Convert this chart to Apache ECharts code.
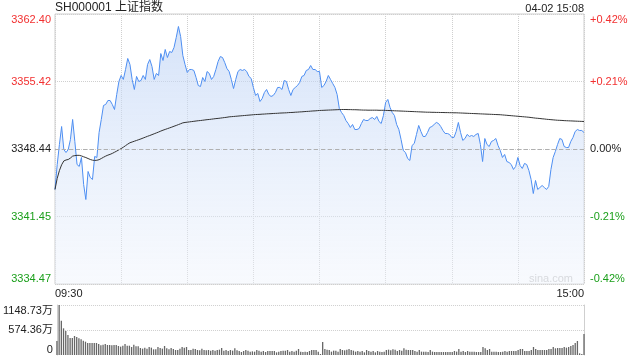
<!DOCTYPE html>
<html><head><meta charset="utf-8">
<script src="https://cdn.jsdelivr.net/npm/echarts@6/dist/echarts.min.js"></script>
<style>html,body{margin:0;padding:0;background:#fff}#c{width:640px;height:360px}</style>
</head><body><div id="c"></div>
<script>
const titleText = 'SH000001 上证指数';
const dateText = '04-02 15:08';
const prevClose = 3348.44;
const priceTicks = [3334.47, 3341.45, 3348.44, 3355.42, 3362.40];
const priceTickLabels = ['3334.47', '3341.45', '3348.44', '3355.42', '3362.40'];
const pctTicks = [-0.42, -0.21, 0, 0.21, 0.42];
const pctTickLabels = ['-0.42%', '-0.21%', '0.00%', '+0.21%', '+0.42%'];
const volTicks = [0, 574.36, 1148.73];
const volTickLabels = ['0', '574.36万', '1148.73万'];
const timeLabels = ['09:30', '15:00'];
const watermark = 'sina.com';

const prices = [
3344.25,3346.83,3348.90,3350.76,3348.38,3348.07,3348.38,3349.42,3351.49,3349.21,
3346.83,3346.63,3347.56,3344.76,3343.21,3346.11,3345.49,3345.28,3347.66,3347.56,
3350.14,3351.49,3352.94,3353.04,3353.45,3353.45,3353.04,3352.52,3354.07,3355.42,
3356.04,3355.63,3356.66,3357.80,3357.18,3355.63,3354.59,3355.94,3355.42,3355.52,
3356.04,3355.63,3357.18,3357.69,3356.97,3355.63,3356.25,3356.04,3358.31,3357.59,
3358.73,3357.90,3358.52,3358.42,3358.94,3359.97,3361.11,3360.07,3358.11,3357.18,
3356.35,3356.66,3356.66,3356.56,3355.83,3355.00,3354.90,3355.83,3355.42,3356.45,
3356.25,3355.63,3355.94,3356.66,3357.49,3358.00,3357.90,3357.38,3356.76,3356.45,
3355.63,3354.69,3355.63,3356.45,3356.66,3356.56,3356.66,3356.45,3355.94,3355.73,
3354.80,3353.97,3354.18,3353.35,3353.66,3354.28,3354.59,3354.07,3353.87,3353.97,
3354.28,3354.80,3354.80,3354.59,3355.52,3355.42,3354.59,3353.97,3354.59,3354.80,
3355.00,3355.31,3355.94,3356.04,3356.56,3356.66,3357.07,3356.66,3356.66,3356.45,
3356.45,3354.80,3355.00,3355.42,3356.04,3355.63,3355.21,3354.80,3354.07,3352.62,
3352.21,3351.90,3351.38,3351.07,3350.66,3350.97,3350.45,3350.45,3350.56,3351.07,
3351.49,3351.38,3351.38,3351.59,3351.69,3351.49,3351.80,3351.28,3351.07,3351.90,
3353.25,3353.56,3352.73,3352.21,3351.90,3350.97,3350.45,3349.42,3348.28,3348.07,
3347.45,3347.25,3348.80,3349.01,3349.94,3350.87,3350.25,3349.73,3349.73,3350.14,
3350.66,3350.76,3350.97,3351.18,3351.07,3350.76,3350.35,3350.04,3350.04,3349.94,
3349.63,3349.63,3350.25,3351.18,3350.14,3349.32,3349.52,3349.94,3349.73,3349.83,
3349.73,3349.94,3350.04,3348.90,3347.14,3349.52,3348.90,3348.69,3349.21,3349.32,
3349.52,3348.80,3348.28,3347.56,3347.87,3347.14,3347.04,3346.83,3346.32,3346.63,
3347.56,3346.73,3346.42,3346.94,3346.83,3346.21,3345.28,3343.83,3345.18,3344.25,
3344.45,3344.66,3344.45,3344.25,3344.56,3346.32,3347.56,3348.18,3348.90,3349.52,
3349.42,3348.69,3348.59,3348.59,3349.21,3349.63,3350.25,3350.45,3350.35,3350.35,3350.14
];

const avgPrices = [
3344.25,3345.40,3346.20,3346.80,3347.20,3347.30,3347.35,3347.50,3347.70,3347.75,
3347.78,3347.78,3347.72,3347.63,3347.55,3347.45,3347.35,3347.28,3347.25,3347.27,
3347.33,3347.45,3347.58,3347.70,3347.80,3347.88,3347.98,3348.10,3348.22,3348.35,
3348.48,3348.62,3348.78,3348.94,3349.08,3349.16,3349.24,3349.32,3349.40,3349.48,
3349.57,3349.66,3349.75,3349.83,3349.92,3350.01,3350.10,3350.19,3350.29,3350.38,
3350.46,3350.54,3350.62,3350.70,3350.79,3350.87,3350.96,3351.05,3351.14,3351.18,
3351.21,3351.24,3351.27,3351.30,3351.33,3351.36,3351.38,3351.41,3351.44,3351.47,
3351.49,3351.52,3351.55,3351.58,3351.60,3351.63,3351.66,3351.69,3351.72,3351.76,
3351.78,3351.80,3351.82,3351.84,3351.86,3351.88,3351.90,3351.92,3351.94,3351.96,
3351.98,3352.00,3352.01,3352.02,3352.04,3352.05,3352.07,3352.08,3352.09,3352.11,
3352.12,3352.13,3352.15,3352.16,3352.17,3352.18,3352.20,3352.21,3352.22,3352.24,
3352.25,3352.27,3352.28,3352.30,3352.32,3352.33,3352.35,3352.37,3352.38,3352.40,
3352.42,3352.43,3352.44,3352.45,3352.46,3352.47,3352.48,3352.49,3352.50,3352.51,
3352.52,3352.52,3352.52,3352.51,3352.51,3352.50,3352.50,3352.49,3352.48,3352.47,
3352.46,3352.46,3352.45,3352.45,3352.45,3352.45,3352.45,3352.44,3352.44,3352.44,
3352.43,3352.42,3352.41,3352.40,3352.39,3352.38,3352.37,3352.36,3352.35,3352.34,
3352.33,3352.32,3352.31,3352.30,3352.29,3352.28,3352.27,3352.26,3352.25,3352.24,
3352.24,3352.23,3352.23,3352.22,3352.22,3352.21,3352.21,3352.20,3352.20,3352.19,
3352.19,3352.18,3352.18,3352.17,3352.16,3352.15,3352.14,3352.13,3352.12,3352.11,
3352.10,3352.09,3352.08,3352.07,3352.06,3352.05,3352.04,3352.03,3352.02,3352.01,
3352.00,3351.99,3351.98,3351.96,3351.94,3351.92,3351.90,3351.88,3351.86,3351.84,
3351.82,3351.80,3351.78,3351.76,3351.74,3351.72,3351.69,3351.66,3351.63,3351.61,
3351.59,3351.56,3351.54,3351.51,3351.49,3351.47,3351.45,3351.43,3351.41,3351.40,
3351.39,3351.37,3351.36,3351.35,3351.34,3351.33,3351.32,3351.31,3351.30,3351.29,3351.28
];

const volumes = [
322,1148.73,789,613,552,460,391,391,437,414,
383,360,329,306,276,276,276,276,276,253,
222,237,253,230,230,222,230,230,207,192,
214,253,214,214,184,237,199,199,161,146,
169,146,184,169,130,130,184,161,146,207,
153,130,161,138,115,115,146,184,169,184,
115,115,146,138,115,107,146,115,107,115,
100,115,100,115,123,161,100,115,92,115,
100,153,107,92,69,92,115,100,77,84,
77,115,100,77,92,69,92,92,92,92,
61,77,92,100,100,115,77,92,77,100,
138,77,69,77,69,92,115,115,115,77,
23,299,138,123,115,77,100,100,77,138,
115,107,123,138,115,100,77,92,77,92,
61,115,92,77,92,61,92,77,69,77,
115,123,107,130,123,92,115,100,153,123,
115,115,115,92,77,115,77,77,77,69,
115,77,69,69,69,69,69,69,69,69,
69,92,77,138,77,92,69,92,77,77,
77,69,69,69,184,153,115,138,77,77,
77,69,69,77,92,77,92,92,92,92,
115,138,138,92,92,92,115,184,138,115,
115,115,115,115,138,138,184,153,161,161,
161,184,169,184,207,230,276,322,38,23,483
];

// minute categories: 09:30-11:30 and 13:01-15:00
function pad(n) { return (n < 10 ? '0' : '') + n; }
const times = [];
for (let m = 9 * 60 + 30; m <= 11 * 60 + 30; m++) times.push(pad(Math.floor(m / 60)) + ':' + pad(m % 60));
for (let m = 13 * 60 + 1; m <= 15 * 60; m++) times.push(pad(Math.floor(m / 60)) + ':' + pad(m % 60));

const FONT = '"Liberation Sans", Arial, "Noto Sans CJK SC", sans-serif';
const RED = '#f23030', GREEN = '#1a9f1a', DARK = '#222', BORDER = '#cfcfcf';

function findLabel(ticks, labels, v) {
  for (let i = 0; i < ticks.length; i++) if (Math.abs(ticks[i] - v) < 1e-6) return labels[i];
  return '';
}

const chart = echarts.init(document.getElementById('c'), null, { renderer: 'canvas' });
const option = {
  animation: false,
  textStyle: { fontFamily: FONT },
  title: [
    { text: titleText, left: 55, top: 2, padding: 0, textStyle: { fontSize: 12, fontWeight: 'normal', color: DARK, fontFamily: FONT } },
    { text: dateText, right: 56, top: 3, padding: 0, textStyle: { fontSize: 11, fontWeight: 'normal', color: DARK, fontFamily: FONT } }
  ],
  grid: [
    { left: 55, right: 56, top: 14, height: 270, show: true, borderColor: BORDER, borderWidth: 1, backgroundColor: 'transparent' },
    { left: 55, right: 56, top: 305, height: 50 }
  ],
  xAxis: [
    {
      type: 'category', gridIndex: 0, data: times, boundaryGap: false,
      axisLine: { show: false }, axisTick: { show: false },
      axisLabel: {
        interval: function (i) { return i === 0 || i === times.length - 1; },
        formatter: function (v, i) { return i === 0 ? timeLabels[0] : timeLabels[1]; },
        color: DARK, fontSize: 11, margin: 4, fontFamily: FONT,
        alignMinLabel: 'left', alignMaxLabel: 'right'
      },
      splitLine: { show: true, interval: function (i) { return i % 30 === 0; }, lineStyle: { type: 'dotted', color: BORDER, width: 1 } }
    },
    {
      type: 'category', gridIndex: 1, data: times, boundaryGap: false,
      axisLine: { show: false }, axisTick: { show: false }, axisLabel: { show: false }, splitLine: { show: false }
    }
  ],
  yAxis: [
    {
      type: 'value', gridIndex: 0, position: 'left', min: priceTicks[0], max: priceTicks[priceTicks.length - 1],
      axisLine: { show: false }, axisTick: { show: false, customValues: priceTicks },
      axisLabel: {
        customValues: priceTicks,
        formatter: function (v) { return findLabel(priceTicks, priceTickLabels, v); },
        color: function (v) { return v > prevClose + 0.005 ? RED : (v < prevClose - 0.005 ? GREEN : DARK); },
        fontSize: 11, margin: 4, fontFamily: FONT,
        verticalAlignMinLabel: 'bottom', verticalAlignMaxLabel: 'top'
      },
      splitLine: { show: true, lineStyle: { type: 'dotted', color: BORDER, width: 1 } }
    },
    {
      type: 'value', gridIndex: 0, position: 'right', min: pctTicks[0], max: pctTicks[pctTicks.length - 1],
      axisLine: { show: false }, axisTick: { show: false, customValues: pctTicks },
      axisLabel: {
        customValues: pctTicks,
        formatter: function (v) { return findLabel(pctTicks, pctTickLabels, v); },
        color: function (v) { return v > 0.0001 ? RED : (v < -0.0001 ? GREEN : DARK); },
        fontSize: 11, margin: 6, fontFamily: FONT,
        verticalAlignMinLabel: 'bottom', verticalAlignMaxLabel: 'top'
      },
      splitLine: { show: false }
    },
    {
      type: 'value', gridIndex: 1, position: 'left', min: volTicks[0], max: volTicks[volTicks.length - 1],
      axisLine: { show: true, lineStyle: { color: BORDER } },
      axisTick: { show: false, customValues: volTicks.slice(1) },
      axisLabel: {
        customValues: volTicks,
        formatter: function (v) { return findLabel(volTicks, volTickLabels, v); },
        color: DARK, fontSize: 11, margin: 4, fontFamily: FONT,
        verticalAlignMinLabel: 'bottom', verticalAlignMaxLabel: 'top'
      },
      splitLine: { show: true, lineStyle: { type: 'dotted', color: BORDER, width: 1 } }
    },
    {
      type: 'value', gridIndex: 1, position: 'right', min: volTicks[0], max: volTicks[volTicks.length - 1],
      axisLine: { show: true, lineStyle: { color: BORDER } }, axisTick: { show: false },
      axisLabel: { show: false }, splitLine: { show: false }
    }
  ],
  graphic: [
    { type: 'text', right: 67, top: 273, silent: true, style: { text: watermark, fill: '#c8c8c8', font: '11px ' + FONT } }
  ],
  series: [
    {
      name: 'price', type: 'line', xAxisIndex: 0, yAxisIndex: 0, data: prices,
      showSymbol: false, symbol: 'none', smooth: false,
      lineStyle: { color: '#4d8ef2', width: 1 },
      areaStyle: {
        origin: 'start',
        color: new echarts.graphic.LinearGradient(0, 0, 0, 1, [
          { offset: 0, color: 'rgba(185,208,245,0.85)' },
          { offset: 1, color: 'rgba(238,243,252,0.6)' }
        ])
      },
      markLine: {
        silent: true, symbol: 'none', label: { show: false }, animation: false,
        lineStyle: { type: [4, 3], color: '#b0b0b0', width: 1 },
        data: [{ yAxis: prevClose }]
      },
      z: 3
    },
    {
      name: 'avg', type: 'line', xAxisIndex: 0, yAxisIndex: 0, data: avgPrices,
      showSymbol: false, symbol: 'none', lineStyle: { color: '#333', width: 1 }, z: 4
    },
    {
      name: 'vol', type: 'bar', xAxisIndex: 1, yAxisIndex: 2, data: volumes,
      barWidth: 1.3, itemStyle: { color: '#666' }
    }
  ]
};
chart.setOption(option);
</script>
</body></html>
